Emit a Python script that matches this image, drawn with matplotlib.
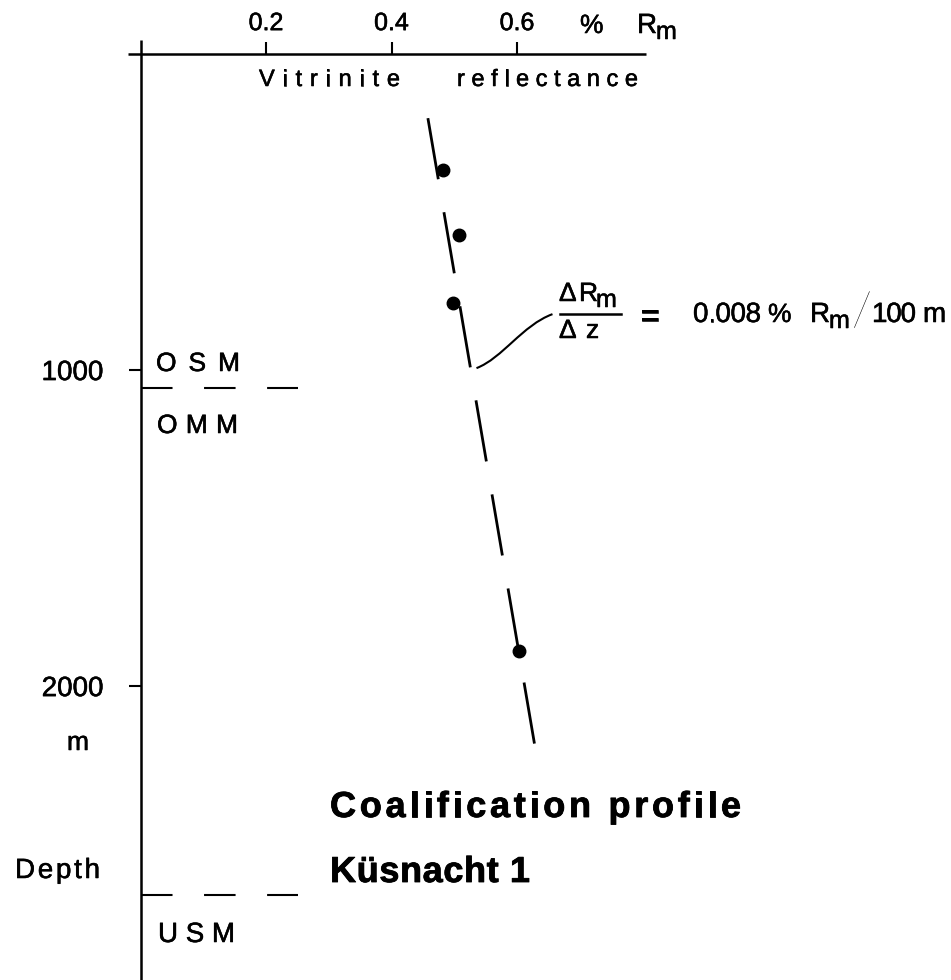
import matplotlib
matplotlib.use('Agg')
import matplotlib.pyplot as plt
import numpy as np
from matplotlib.font_manager import FontProperties, findfont
from matplotlib.ft2font import FT2Font
from matplotlib.transforms import IdentityTransform
from matplotlib.path import Path
from matplotlib.patches import PathPatch
from matplotlib.lines import Line2D
import matplotlib.patheffects as pe

W, H, DPI = 951, 980, 100
FONT = 'Liberation Sans'
plt.rcParams['font.family'] = [FONT, 'DejaVu Sans']
plt.rcParams['lines.scale_dashes'] = False

# ---------------- data ----------------
rm_samples = [0.482, 0.508, 0.498, 0.603]        # vitrinite reflectance, % Rm
depth_samples = [367, 573, 787, 1889]            # depth, m
trend_rm = [0.458, 0.629]                        # fitted coalification line
trend_depth = [203, 2196]
boundary_depths = [1057, 2661]                   # OSM/OMM and OMM/USM
boundary_rm = [0.0, 0.251]
unit_names = ['OSM', 'OMM', 'USM']
x_ticks = [0.2, 0.4, 0.6]
x_tick_labels = ['0.2', '0.4', '0.6']
y_ticks = [1000, 2000]
y_tick_labels = ['1000', '2000']
leader_depth = 994
gradient_value = '0.008'

STROKE = [pe.withStroke(linewidth=0.4, foreground='black')]
BOLD_STROKE = [pe.withStroke(linewidth=0.6, foreground='black')]

fig = plt.figure(figsize=(W / DPI, H / DPI), dpi=DPI)
ax = fig.add_axes([140.5 / W, 0.0, 502 / W, 926 / H])
ax.set_xlim(0, 0.8)
ax.set_ylim(2930, 0)
for s in ax.spines.values():
    s.set_visible(False)
ax.patch.set_visible(False)

# axes lines (extend a little beyond the origin like the drawing)
ax.plot([-0.02, 0.805], [0, 0], color='black', lw=1.8, clip_on=False, solid_capstyle='butt')
ax.plot([0, 0], [-45, 2930], color='black', lw=1.8, clip_on=False, solid_capstyle='butt')

ax.xaxis.tick_top()
ax.set_xticks(x_ticks, x_tick_labels)
ax.set_yticks(y_ticks, y_tick_labels)
ax.tick_params(axis='x', direction='out', length=8.6, width=1.5, pad=5, labelsize=18)
ax.tick_params(axis='y', direction='out', length=8.6, width=1.5, pad=18, labelsize=20)
for lab in ax.get_xticklabels() + ax.get_yticklabels():
    lab.set_path_effects(STROKE)

# trend line (dashed) and samples
ax.plot(trend_rm, trend_depth, color='black', lw=2.0,
        linestyle=(0, (44.6, 24.1)), solid_capstyle='butt', dash_capstyle='butt')
ax.plot(rm_samples, depth_samples, 'o', color='black', markersize=9, linestyle='none')

# formation boundaries
for z in boundary_depths:
    ax.plot(boundary_rm, [z, z], color='black', lw=1.5,
            linestyle=(0, (22.7, 22.7)), dash_capstyle='butt', clip_on=False)


def advances(text, size, weight):
    fp = FontProperties(family=FONT, weight=weight)
    f = FT2Font(findfont(fp))
    f.set_size(size, DPI)
    out = []
    for ch in text:
        g = f.load_char(ord(ch))
        out.append(g.linearHoriAdvance / 65536.0)
    return out


def spaced(text, x0, x1, baseline, size, weight='normal'):
    adv = advances(text, size, weight)
    n = len(text)
    track = (x1 - x0 - sum(adv)) / (n - 1) if n > 1 else 0
    x = x0
    effects = STROKE if weight == 'normal' else BOLD_STROKE
    for ch, a in zip(text, adv):
        if ch != ' ':
            fig.text(x, H - baseline, ch, transform=IdentityTransform(), fontsize=size,
                     fontweight=weight, family=FONT, ha='left', va='baseline',
                     path_effects=effects)
        x += a + track


def plain(text, x, baseline, size, ha='left', va='baseline', **kw):
    kw.setdefault('path_effects', STROKE)
    fig.text(x, H - baseline, text, transform=IdentityTransform(), fontsize=size,
             ha=ha, va=va, **kw)


# axis titles
spaced('Vitrinite', 259, 400, 86, 17)
spaced('reflectance', 457, 638, 86, 17)
plain('%', 580, 33, 19)
plain('R', 637, 33, 20)
plain('m', 656, 39, 18)
plain('m', 67, 750, 19)
spaced('Depth', 15, 100, 878, 20)

# unit names
spaced(unit_names[0], 156, 240, 371, 19)
spaced(unit_names[1], 157, 238, 433, 19)
spaced(unit_names[2], 158, 235, 942, 20)

# title
spaced('Coalification profile', 330, 741, 817, 26, 'bold')
spaced('Küsnacht 1', 330, 530, 882, 26, 'bold')

# gradient formula
plain('Δ', 559, 301, 19)
plain('R', 579, 301, 19)
plain('m', 596, 307, 18)
fig.add_artist(Line2D([560, 621], [H - 314, H - 314], transform=IdentityTransform(),
                      color='black', lw=1.8))
plain('Δ', 559, 338, 19)
plain('z', 586, 338, 19)
plain('=', 650, 318, 24, ha='center', va='center')
spaced(gradient_value, 693, 761, 322, 20)
plain('%', 768, 322, 19)
plain('R', 810, 322, 20)
plain('m', 829, 328, 18)
fig.text(862, H - 314, '/', transform=IdentityTransform(), fontsize=34, ha='center',
         va='center', family=['Lato', FONT], fontweight='light')
spaced('100', 872, 916, 322, 20)
plain('m', 923, 322, 20)

# leader curve from the trend line to the formula
ax_x = np.interp(leader_depth, trend_depth, trend_rm)
x0, y0 = ax.transData.transform((ax_x, leader_depth))
x0 += 6
verts = [(x0, y0), (x0 + 26, y0 + 10), (x0 + 46, y0 + 43), (x0 + 76, y0 + 54)]
path = Path(verts, [Path.MOVETO, Path.CURVE4, Path.CURVE4, Path.CURVE4])
fig.add_artist(PathPatch(path, transform=IdentityTransform(), facecolor='none',
                         edgecolor='black', lw=1.5))

fig.savefig('out.png', dpi=DPI)
